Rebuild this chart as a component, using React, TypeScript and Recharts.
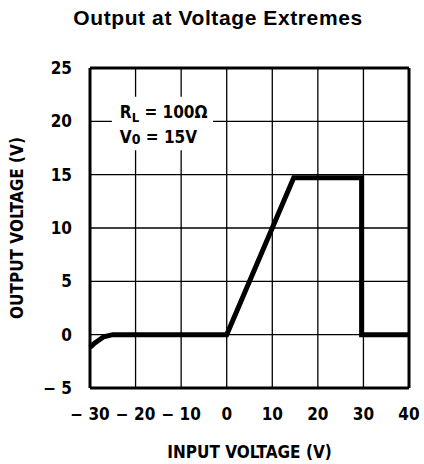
import React from 'react';
import {
  LineChart,
  Line,
  XAxis,
  YAxis,
  CartesianGrid,
  ReferenceArea,
  ReferenceLine,
} from 'recharts';

// input voltage (V) vs output voltage (V)
const inputVoltage = [-30, -29, -28, -27, -25, 0, 14.7, 29.6, 29.6, 40];
const outputVoltage = [-1.2, -0.8, -0.5, -0.2, 0, 0, 14.7, 14.7, 0, 0];
const xTicks = [-30, -20, -10, 0, 10, 20, 30, 40];
const yTicks = [-5, 0, 5, 10, 15, 20, 25];

const data = inputVoltage.map((v, i) => ({ vin: v, vout: outputVoltage[i] }));

const FONT = '"DejaVu Sans Condensed", "DejaVu Sans", sans-serif';
const tickStyle = { fontFamily: FONT, fontStretch: 'condensed', fontWeight: 'bold', fontSize: 17, fill: '#000' };

const fmt = (v: number) => (v < 0 ? `\u2212 ${-v}` : `${v}`);

// note box with the test conditions
const NoteLabel = (props: any) => {
  const { x, y } = props.viewBox;
  return (
    <g fontFamily={FONT} fontWeight="bold" fontSize={17} fill="#000" style={{ fontStretch: 'condensed' }}>
      <text x={x + 8} y={y + 21}>
        R<tspan fontSize={13} dy={4}>L</tspan>
        <tspan dy={-4}> = 100Ω</tspan>
      </text>
      <text x={x + 8} y={y + 46}>
        V<tspan fontSize={14} dy={1}>0</tspan>
        <tspan dy={-1}> = 15V</tspan>
      </text>
    </g>
  );
};

const App: React.FC = () => {
  return (
    <div style={{ position: 'absolute', left: 0, top: 0, width: 424, height: 464, background: '#fff' }}>
      <div
        style={{
          position: 'absolute',
          left: 0,
          top: 6,
          width: 436,
          textAlign: 'center',
          fontFamily: 'Arial, "Liberation Sans", sans-serif',
          fontWeight: 'bold',
          fontSize: 21,
          letterSpacing: 0.6,
        }}
      >
        Output at Voltage Extremes
      </div>
      <LineChart
        width={424}
        height={464}
        data={data}
        margin={{ top: 68, right: 15, left: 0, bottom: 0 }}
      >
        <CartesianGrid stroke="#000" strokeWidth={1.3} />
        <XAxis
          dataKey="vin"
          type="number"
          domain={[-30, 40]}
          ticks={xTicks}
          tickFormatter={fmt}
          height={76}
          tickLine={false}
          tickSize={0}
          tickMargin={20}
          axisLine={{ stroke: '#000', strokeWidth: 3 }}
          tick={tickStyle}
          label={{
            value: 'INPUT VOLTAGE (V)',
            position: 'insideBottom',
            offset: 6,
            style: tickStyle,
          }}
        />
        <YAxis
          type="number"
          domain={[-5, 25]}
          ticks={yTicks}
          tickFormatter={fmt}
          width={90}
          tickLine={false}
          tickSize={0}
          tickMargin={18}
          axisLine={{ stroke: '#000', strokeWidth: 3 }}
          tick={tickStyle}
          label={{
            value: 'OUTPUT VOLTAGE (V)',
            angle: -90,
            position: 'insideLeft',
            offset: 17,
            style: { ...tickStyle, textAnchor: 'middle' },
          }}
        />
        <ReferenceLine x={40} stroke="#000" strokeWidth={3} />
        <ReferenceLine y={25} stroke="#000" strokeWidth={3} />
        <ReferenceArea
          x1={-25.2}
          x2={-3}
          y1={17.3}
          y2={22.3}
          fill="#fff"
          fillOpacity={1}
          stroke="none"
          label={<NoteLabel />}
        />
        <Line
          type="linear"
          dataKey="vout"
          stroke="#000"
          strokeWidth={5}
          dot={false}
          isAnimationActive={false}
        />
      </LineChart>
    </div>
  );
};

export default App;
